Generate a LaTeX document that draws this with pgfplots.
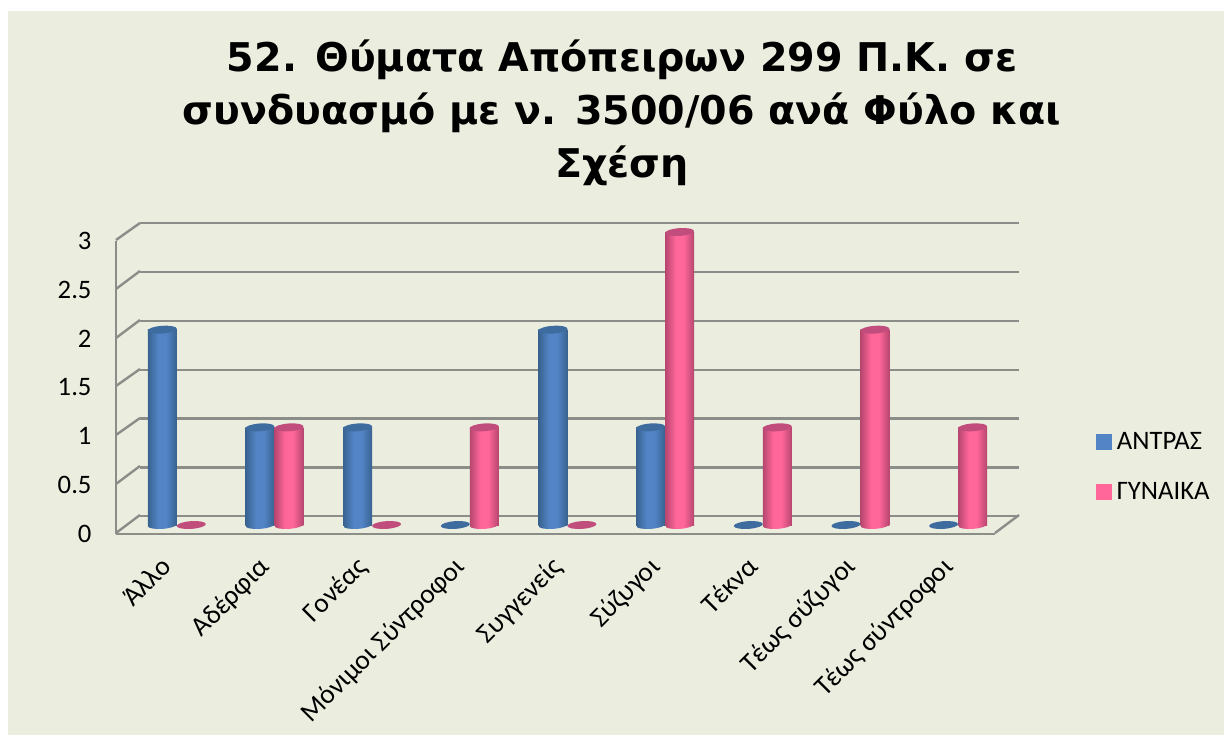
\documentclass[border=0pt]{standalone}
\usepackage{pgfplots}
\pgfplotsset{compat=1.18}
\usepackage{fontspec}
\setmainfont{Carlito}
\newfontfamily\titlefont{DejaVu Sans}
\definecolor{bgc}{HTML}{EBEEDF}
\definecolor{gridc}{HTML}{8B8D88}
\definecolor{bluemid}{HTML}{5284C6}
\definecolor{blueedge}{HTML}{38628F}
\definecolor{bluetop}{HTML}{3F6C9F}
\definecolor{pinkmid}{HTML}{FF6699}
\definecolor{pinkedge}{HTML}{B6466F}
\definecolor{pinktop}{HTML}{C04D7C}
\pgfdeclarehorizontalshading{blueshade}{8bp}{color(0bp)=(blueedge);color(8bp)=(bluemid);color(13.75bp)=(bluemid);color(21.75bp)=(blueedge)}
\pgfdeclarehorizontalshading{pinkshade}{8bp}{color(0bp)=(pinkedge);color(8bp)=(pinkmid);color(13.75bp)=(pinkmid);color(21.75bp)=(pinkedge)}
\pgfdeclarehorizontalshading{bluebar}{100bp}{color(0bp)=(blueedge);color(25bp)=(blueedge);color(43bp)=(bluemid);color(57bp)=(bluemid);color(75bp)=(blueedge);color(100bp)=(blueedge)}
\pgfdeclarehorizontalshading{pinkbar}{100bp}{color(0bp)=(pinkedge);color(25bp)=(pinkedge);color(43bp)=(pinkmid);color(57bp)=(pinkmid);color(75bp)=(pinkedge);color(100bp)=(pinkedge)}
\newcommand\capellipse{\pgftransformrotate{4}\pgfpathellipse{\pgfpointorigin}{\pgfqpoint{10.9pt}{0pt}}{\pgfqpoint{0pt}{2.9pt}}}
\pgfdeclareplotmark{capblue}{\pgfsetfillcolor{bluetop}\capellipse\pgfusepathqfill}
\pgfdeclareplotmark{cappink}{\pgfsetfillcolor{pinktop}\capellipse\pgfusepathqfill}
\pgfdeclareplotmark{baseblue}{\begin{pgfscope}\capellipse\pgfusepathqclip\pgftext{\pgfuseshading{blueshade}}\end{pgfscope}}
\pgfdeclareplotmark{basepink}{\begin{pgfscope}\capellipse\pgfusepathqclip\pgftext{\pgfuseshading{pinkshade}}\end{pgfscope}}
\pgfplotsset{common/.style={
  scale only axis, width=659.25pt, height=219.75pt,
  xmin=-0.5, xmax=8.5, ymin=0, ymax=3, anchor=south west, clip=false}}
% one bar per plot, so that each has its own shading
\newcommand\bluebar[2]{\addplot[forget plot,ybar,bar width=21.75pt,bar shift=0pt,draw=none,shading=bluebar] coordinates {(#1,#2)};}
\newcommand\pinkbar[2]{\addplot[forget plot,ybar,bar width=21.75pt,bar shift=0pt,draw=none,shading=pinkbar] coordinates {(#1,#2)};}
\begin{document}
\begin{tikzpicture}[x=0.75pt,y=0.75pt]
\useasboundingbox (0,0) rectangle (1224,735);
\fill[white] (0,0) rectangle (1224,735);
\fill[bgc] (8,0) rectangle (1224,724);
% back wall
\begin{axis}[common, at={(143,224)},
  axis line style={draw=none}, major tick length=0pt, xtick=\empty, yticklabels={},
  ymajorgrids, ytick={0,0.5,...,3},
  grid style={line width=1.8pt,gridc}]
\addplot[draw=none] coordinates {(0,0)};
\end{axis}
% walls
\draw[gridc,line width=1.8pt,line join=round]
  (116,495) -- (140,512) (116,446) -- (140,464) (116,397)--(140,415)
  (116,349)--(140,366) (116,300)--(140,317) (116,251)--(140,269) (116,202)--(140,220);
\draw[gridc,line width=1.8pt] (995,202)--(1019,220);
% front
\begin{axis}[common, at={(119,206)},
  axis x line*=bottom, axis y line*=left, axis line style={gridc,line width=1.8pt,-},
  major tick length=0pt,
  ytick={0,0.5,1,1.5,2,2.5,3}, yticklabels={0,0.5,1,1.5,2,2.5,3},
  xtick={0,...,8},
  xticklabels={Άλλο,Αδέρφια,Γονέας,Μόνιμοι Σύντροφοι,Συγγενείς,Σύζυγοι,Τέκνα,Τέως σύζυγοι,Τέως σύντροφοι},
  yticklabel style={font=\fontsize{20}{22}\selectfont,xshift=-15pt},
  xticklabel style={font=\fontsize{20.5}{22}\selectfont,rotate=45,anchor=north east,inner sep=2pt,yshift=-6pt,xshift=-12pt}]
\addplot[draw=none] coordinates {(0,0)};
\end{axis}
% bars
\begin{axis}[common, at={(131,215)},
  axis line style={draw=none}, major tick length=0pt, xtick=\empty, ytick=\empty,
  legend style={at={(1.1005,0.326)},anchor=north west,draw=none,fill=none,
    font=\fontsize{20}{22}\selectfont,row sep=19.25pt,inner sep=0pt},
  legend cell align=left]
\addlegendimage{legend image code/.code={\fill[bluemid] (0pt,-5.6pt) rectangle (11.5pt,5.6pt);\fill[opacity=0] (11.5pt,-0.1pt) rectangle (13.6pt,0.1pt);}}
\addlegendentry{ΑΝΤΡΑΣ}
\addlegendimage{legend image code/.code={\fill[pinkmid] (0pt,-5.6pt) rectangle (11.5pt,5.6pt);\fill[opacity=0] (11.5pt,-0.1pt) rectangle (13.6pt,0.1pt);}}
\addlegendentry{ΓΥΝΑΙΚΑ}
\addplot[forget plot,only marks,mark=baseblue] coordinates {(-0.1485,0)(0.8515,0)(1.8515,0)(3.8515,0)(4.8515,0)};
\bluebar{-0.1485}{2}\bluebar{0.8515}{1}\bluebar{1.8515}{1}\bluebar{3.8515}{2}\bluebar{4.8515}{1}
\addplot[forget plot,only marks,mark=capblue] coordinates {(-0.1485,2)(0.8515,1)(1.8515,1)(2.8515,0)(3.8515,2)(4.8515,1)(5.8515,0)(6.8515,0)(7.8515,0)};
\addplot[forget plot,only marks,mark=basepink] coordinates {(1.1485,0)(3.1485,0)(5.1485,0)(6.1485,0)(7.1485,0)(8.1485,0)};
\pinkbar{1.1485}{1}\pinkbar{3.1485}{1}\pinkbar{5.1485}{3}\pinkbar{6.1485}{1}\pinkbar{7.1485}{2}\pinkbar{8.1485}{1}
\addplot[forget plot,only marks,mark=cappink] coordinates {(0.1485,0)(1.1485,1)(2.1485,0)(3.1485,1)(4.1485,0)(5.1485,3)(6.1485,1)(7.1485,2)(8.1485,1)};
\end{axis}
\node[font=\titlefont\bfseries\fontsize{29.7}{39.75}\selectfont,align=center,text=black] at (622,622.5)
  {52. Θύματα Απόπειρων 299 Π.Κ. σε\\συνδυασμό με ν. 3500/06 ανά Φύλο και\\Σχέση};
\end{tikzpicture}
\end{document}
